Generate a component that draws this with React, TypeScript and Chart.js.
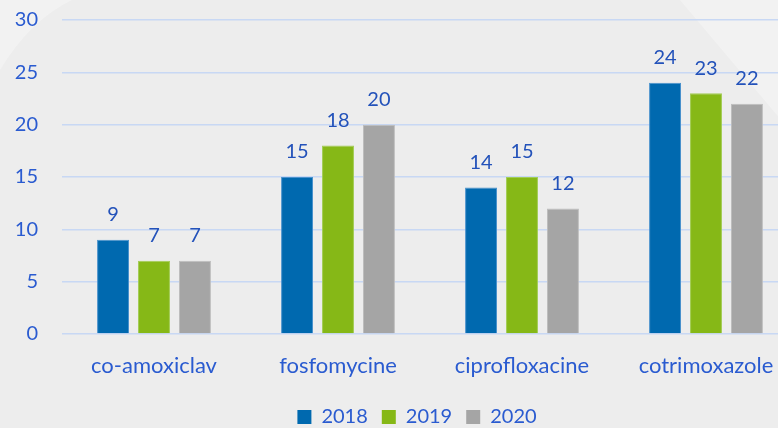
import React, { useEffect, useRef } from "react";
import { Chart, registerables } from "chart.js";

Chart.register(...registerables);

const categories = ["co-amoxiclav", "fosfomycine", "ciprofloxacine", "cotrimoxazole"];
const years = ["2018", "2019", "2020"];
const values2018 = [9, 15, 14, 24];
const values2019 = [7, 18, 15, 23];
const values2020 = [7, 20, 12, 22];
const colors = ["#0069AF", "#86B817", "#A5A5A5"];
const borderColors = ["#4A92CC", "#A3CC55", "#BEBEBE"];
const yTicks = [0, 5, 10, 15, 20, 25, 30];

const FONT = "Lato, 'Open Sans', sans-serif";

const bgPlugin = {
  id: "bg",
  beforeDraw(chart: any) {
    const { ctx, width, height } = chart;
    ctx.save();
    ctx.fillStyle = "#EDEDED";
    ctx.fillRect(0, 0, width, height);
    ctx.fillStyle = "rgba(255,255,255,0.3)";
    ctx.beginPath();
    ctx.moveTo(680, 0);
    ctx.lineTo(width, 0);
    ctx.lineTo(width, 140);
    ctx.closePath();
    ctx.fill();
    ctx.beginPath();
    ctx.moveTo(0, 70);
    ctx.quadraticCurveTo(30, 20, 72, 0);
    ctx.lineTo(0, 0);
    ctx.closePath();
    ctx.fillStyle = "rgba(255,255,255,0.3)";
    ctx.fill();
    ctx.restore();
  },
};

const legendShift = {
  id: "legendShift",
  afterLayout(chart: any) {
    const l = chart.legend;
    if (l) {
      l.left += 18;
      l.right += 18;
      l.top = 393;
      l.bottom = l.top + l.height;
    }
  },
};

const labelPlugin = {
  id: "valueLabels",
  afterDatasetsDraw(chart: any) {
    const { ctx } = chart;
    ctx.save();
    ctx.font = `20px ${FONT}`;
    ctx.fillStyle = "#2352BA";
    ctx.textAlign = "center";
    ctx.textBaseline = "middle";
    chart.data.datasets.forEach((ds: any, i: number) => {
      const meta = chart.getDatasetMeta(i);
      meta.data.forEach((bar: any, j: number) => {
        ctx.fillText(String(ds.data[j]), bar.x, bar.y - 25);
      });
    });
    ctx.restore();
  },
};

export default function App() {
  const ref = useRef<HTMLCanvasElement>(null);
  useEffect(() => {
    if (!ref.current) return;
    const series = [values2018, values2019, values2020];
    const chart = new Chart(ref.current, {
      type: "bar",
      data: {
        labels: categories,
        datasets: years.map((y, i) => ({
          label: y,
          data: series[i],
          backgroundColor: colors[i],
          borderColor: borderColors[i],
          borderWidth: 1,
          categoryPercentage: 0.668,
          barPercentage: 0.78,
        })),
      },
      options: {
        animation: false,
        responsive: false,
        maintainAspectRatio: false,
        layout: { padding: { left: 0, right: 0, top: 20, bottom: 0 } },
        plugins: {
          legend: {
            position: "bottom",
            padding: 2,
            labels: {
              boxWidth: 14,
              boxHeight: 14,
              padding: 14,
              color: "#2A5BD0",
              font: { family: FONT, size: 20 },
              generateLabels: (chart: any) =>
                chart.data.datasets.map((ds: any, i: number) => ({
                  text: ds.label,
                  fillStyle: colors[i],
                  strokeStyle: colors[i],
                  lineWidth: 0,
                  fontColor: "#2A5BD0",
                  datasetIndex: i,
                  hidden: false,
                })),
            },
          },
          tooltip: { enabled: false },
        },
        scales: {
          x: {
            grid: { display: false, drawTicks: false },
            border: { display: false },
            ticks: {
              color: "#2A5BD0",
              font: { family: FONT, size: 22 },
              padding: 19,
              maxRotation: 0,
            },
            afterFit: (s: any) => {
              s.height = 50;
            },
          },
          y: {
            min: 0,
            max: 30,
            afterBuildTicks: (s: any) => {
              s.ticks = yTicks.map((v) => ({ value: v }));
            },
            grid: { color: "#C8D8F4", lineWidth: 1.5, drawTicks: false },
            border: { display: false },
            ticks: {
              color: "#2A5BD0",
              font: { family: FONT, size: 20 },
              padding: 24,
            },
            afterFit: (s: any) => {
              s.width = 62;
              s.paddingTop = 0;
              s.paddingBottom = 0;
            },
          },
        },
      },
      plugins: [bgPlugin, legendShift, labelPlugin],
    });
    return () => chart.destroy();
  }, []);
  return (
    <div
      style={{
        position: "fixed",
        left: 0,
        top: 0,
        width: 778,
        height: 428,
        overflow: "hidden",
        background: "#EDEDED",
      }}
    >
      <canvas ref={ref} width={798} height={428} style={{ display: "block" }} />
    </div>
  );
}
